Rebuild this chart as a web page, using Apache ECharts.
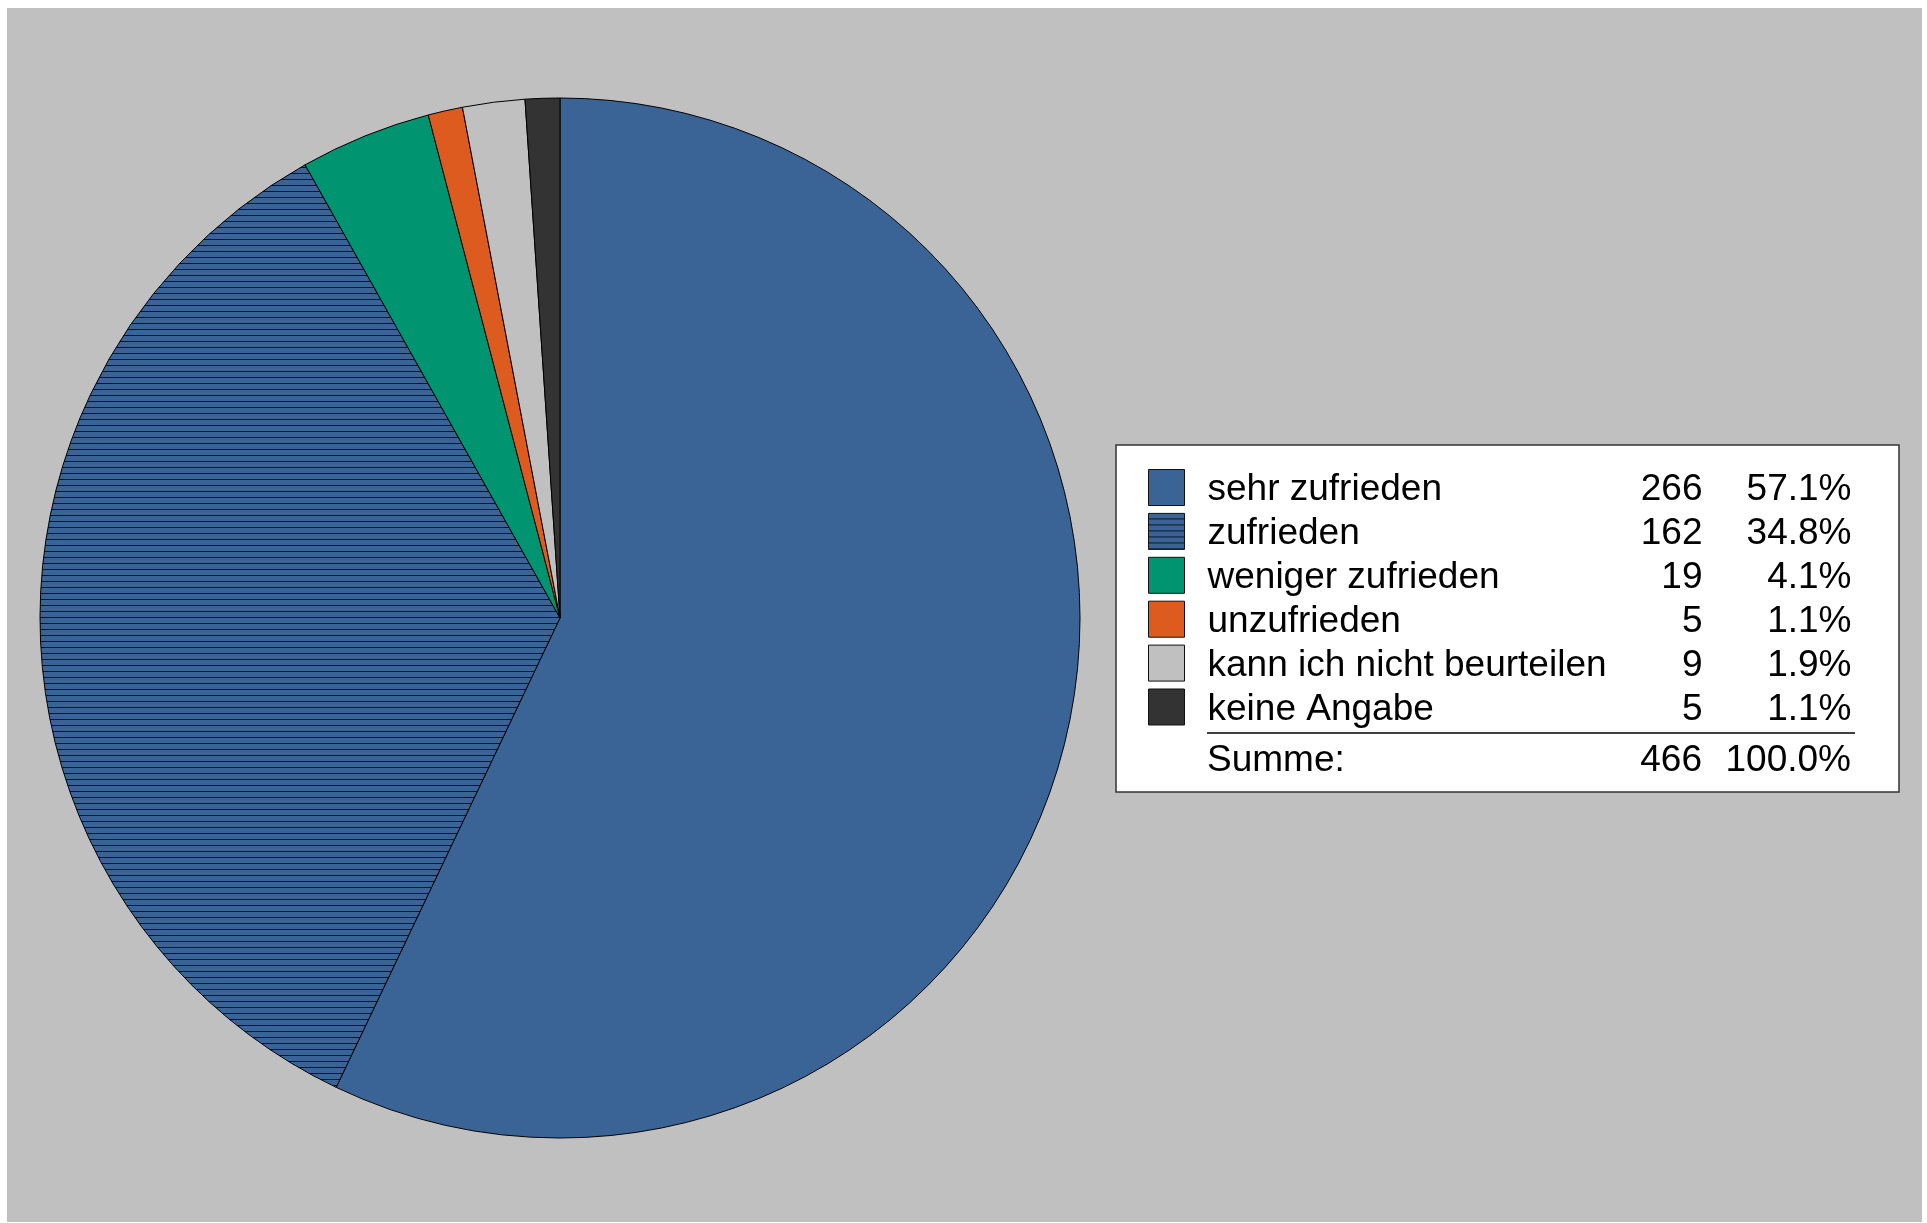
<!DOCTYPE html>
<html><head><meta charset="utf-8">
<script src="https://cdn.jsdelivr.net/npm/echarts@6/dist/echarts.min.js"></script>
<style>html,body{margin:0;padding:0;background:#fff}#c{width:1927px;height:1223px}</style>
</head><body><div id="c"></div>
<script>
const categories = ['sehr zufrieden','zufrieden','weniger zufrieden','unzufrieden','kann ich nicht beurteilen','keine Angabe'];
const counts = [266,162,19,5,9,5];
const percents = ['57.1%','34.8%','4.1%','1.1%','1.9%','1.1%'];
const totalLabel = 'Summe:';
const totalCount = '466';
const totalPercent = '100.0%';
const colors = ['#3A6496','#3A6496','#009471','#DE5B20','#C0C0C0','#333333'];

const FONT = 'Liberation Sans, Arial, sans-serif';
const FS = 37;

// horizontal hatch pattern for "zufrieden"
const pc = document.createElement('canvas'); pc.width = 6; pc.height = 6;
const pctx = pc.getContext('2d');
pctx.fillStyle = colors[1]; pctx.fillRect(0,0,6,6);
pctx.fillStyle = '#0b1624'; pctx.fillRect(0,5,6,1);

const chart = echarts.init(document.getElementById('c'), null, {renderer:'canvas'});
chart.setOption({
  backgroundColor: '#fff',
  animation: false,
  graphic: [
    {type:'rect', z:-10, shape:{x:7, y:8, width:1915, height:1214}, style:{fill:'#C0C0C0'}},
    {type:'rect', z:-5, shape:{x:1116, y:445, width:783, height:347}, style:{fill:'#fff', stroke:'#333', lineWidth:1.5}},
    {type:'line', z:5, shape:{x1:1207, y1:733, x2:1855, y2:733}, style:{stroke:'#000', lineWidth:1.5}},
    {type:'text', z:5, x:1207, y:761, style:{text:totalLabel, font:`${FS}px ${FONT}`, fill:'#000', align:'left', verticalAlign:'middle'}},
    {type:'text', z:5, x:1702, y:761, style:{text:totalCount, font:`${FS}px ${FONT}`, fill:'#000', align:'right', verticalAlign:'middle'}},
    {type:'text', z:5, x:1851, y:761, style:{text:totalPercent, font:`${FS}px ${FONT}`, fill:'#000', align:'right', verticalAlign:'middle'}}
  ],
  legend: {
    orient:'vertical', left:1148, top:469, padding:0,
    itemWidth:36, itemHeight:36, itemGap:4.4, icon:'rect',
    selectedMode:false,
    itemStyle:{borderColor:'#111', borderWidth:1},
    textStyle:{
      fontFamily:FONT, fontSize:FS, color:'#000',
      rich:{
        n:{fontFamily:FONT, fontSize:FS, color:'#000', width:413, padding:[5,0,0,18], align:'left'},
        c:{fontFamily:FONT, fontSize:FS, color:'#000', width:82, padding:[5,0,0,0], align:'right'},
        p:{fontFamily:FONT, fontSize:FS, color:'#000', width:149, padding:[5,0,0,0], align:'right'}
      }
    },
    formatter: function(name){
      const i = categories.indexOf(name);
      return '{n|' + name + '}{c|' + counts[i] + '}{p|' + percents[i] + '}';
    },
    data: categories
  },
  series: [{
    type:'pie',
    center:[560, 618],
    radius:[0, 520],
    startAngle:90,
    clockwise:true,
    label:{show:false},
    labelLine:{show:false},
    emphasis:{disabled:true},
    silent:true,
    itemStyle:{borderColor:'#000', borderWidth:1},
    data: categories.map((n,i)=>({
      name:n, value:counts[i],
      itemStyle:{color: i===1 ? {image:pc, repeat:'repeat'} : colors[i]}
    }))
  }]
});
</script>
</body></html>
